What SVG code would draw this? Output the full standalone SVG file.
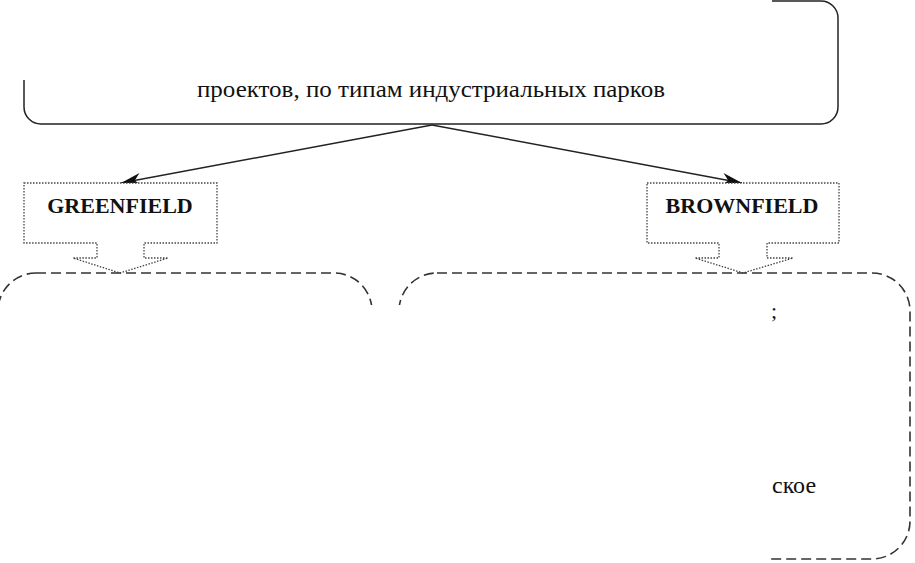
<svg xmlns="http://www.w3.org/2000/svg" width="915" height="563" viewBox="0 0 915 563">
<style>
.solid{fill:none;stroke:#222;stroke-width:1.5}
.call{fill:#fff;stroke:#444;stroke-width:1.3;stroke-dasharray:1.5 1.5}
.dash{fill:none;stroke:#333;stroke-width:1.6;stroke-dasharray:10 5}
.t{fill:#111}
.b{font-weight:bold;font-size:22px;fill:#111}
</style>
<defs>
<marker id="arr" markerWidth="22" markerHeight="14" viewBox="-1 -7 22 14" refX="20" refY="0" orient="auto" markerUnits="userSpaceOnUse">
<path d="M0,-6.5 L20,0 L0,6.5 L6,0 Z" fill="#111"/>
</marker>
<clipPath id="vis">
<path d="M0,80 H772 V0 H915 V563 H770 V305 H0 Z"/>
</clipPath>
</defs>
<rect width="915" height="563" fill="#fff"/>
<g clip-path="url(#vis)" font-family="'Liberation Serif', 'Times New Roman', 'DejaVu Serif', serif">
<g id="top">
<rect x="24" y="1" width="814" height="123" rx="17" ry="17" class="solid"/>
<text class="t" x="431" y="97" font-size="24" text-anchor="middle" textLength="468" lengthAdjust="spacingAndGlyphs">проектов, по типам индустриальных парков</text>
</g>
<g id="connectors">
<line x1="432" y1="125" x2="121" y2="183" class="solid" marker-end="url(#arr)"/>
<line x1="432" y1="125" x2="742" y2="183" class="solid" marker-end="url(#arr)"/>
</g>
<g id="greenfield">
<path d="M24,183 H217 V243 H144 V258 H168 L120,273 L73,258 H97 V243 H24 Z" class="call"/>
<text class="b" x="120" y="213" text-anchor="middle">GREENFIELD</text>
</g>
<g id="brownfield">
<path d="M647,183 H839 V243 H767 V258 H793 L743,273 L695,258 H719 V243 H647 Z" class="call"/>
<text class="b" x="742" y="213" text-anchor="middle">BROWNFIELD</text>
</g>
<g id="greenfield-list">
<rect x="-2" y="273" width="374" height="286" rx="38" ry="38" class="dash"/>
</g>
<g id="brownfield-list">
<rect x="399" y="273" width="511" height="286" rx="38" ry="38" class="dash"/>
<text class="t" x="771" y="318" font-size="22">;</text>
<text class="t" x="772" y="493" font-size="24">ское</text>
</g>
</g>
</svg>
